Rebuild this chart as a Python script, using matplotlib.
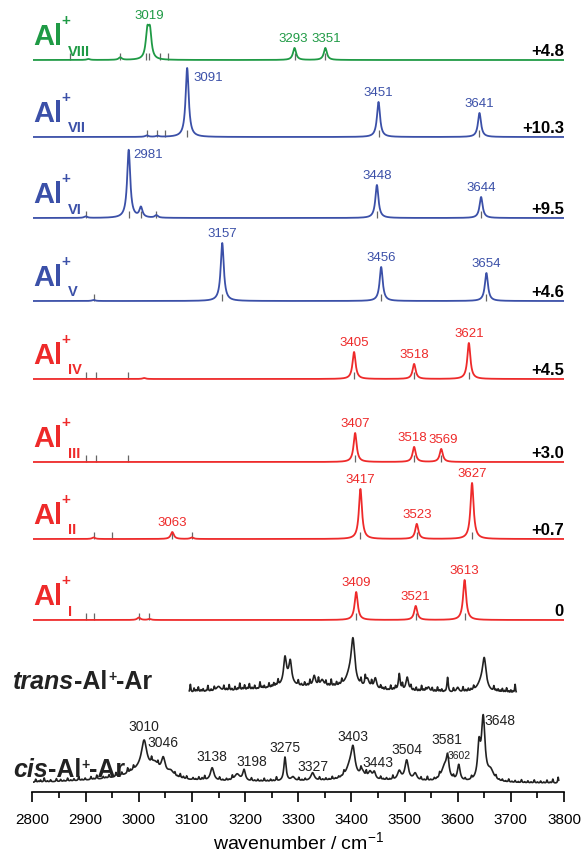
import numpy as np
import matplotlib.pyplot as plt
from matplotlib.ticker import MultipleLocator

plt.rcParams['font.family'] = ['Liberation Sans', 'DejaVu Sans']
plt.rcParams['mathtext.fontset'] = 'custom'
plt.rcParams['mathtext.rm'] = 'Liberation Sans'

# computed isomers, top to bottom
isomers = ['VIII', 'VII', 'VI', 'V', 'IV', 'III', 'II', 'I']
energies = ['+4.8', '+10.3', '+9.5', '+4.6', '+4.5', '+3.0', '+0.7', '0']
# (position cm-1, height)
peaks = {
    'VIII': [(3016, 26), (3021, 26), (3293, 12), (3351, 12), (2965, 2.5), (2905, 1)],
    'VII': [(3091, 69), (3451, 35), (3641, 24), (3015, 1.5), (3035, 1)],
    'VI': [(2981, 68), (3004, 10), (3033, 2.5), (3448, 33), (3644, 21), (2900, 1.5)],
    'V': [(3157, 58), (3456, 34), (3654, 28), (2915, 1)],
    'IV': [(3405, 27), (3518, 15), (3621, 36), (3010, 1)],
    'III': [(3407, 29), (3518, 15), (3569, 13)],
    'II': [(3417, 50), (3523, 15), (3627, 56), (3063, 7), (2915, 1.5), (3100, 1.5)],
    'I': [(3409, 28), (3521, 14), (3613, 40), (3000, 2.5), (3020, 1)],
}
labels = {
    'VIII': [3019, 3293, 3351],
    'VII': [3091, 3451, 3641],
    'VI': [2981, 3448, 3644],
    'V': [3157, 3456, 3654],
    'IV': [3405, 3518, 3621],
    'III': [3407, 3518, 3569],
    'II': [3063, 3417, 3523, 3627],
    'I': [3409, 3521, 3613],
}
sticks = {
    'VIII': [3014, 3019, 3293, 3351, 2965, 2870, 3040, 3055],
    'VII': [3091, 3451, 3641, 3015, 3035, 3050],
    'VI': [2981, 3004, 3033, 3448, 3644, 2900],
    'V': [3157, 3456, 3654, 2915],
    'IV': [3405, 3518, 3621, 2900, 2920, 2980],
    'III': [3407, 3518, 3569, 2900, 2920, 2980],
    'II': [3063, 3417, 3523, 3627, 2915, 2950, 3100],
    'I': [3409, 3521, 3613, 2900, 2915, 3000, 3020],
}

# experimental spectra: (position, height, fwhm)
cis_peaks = [(3005, 9, 50), (3010, 28, 12), (3030, 10, 18), (3046, 16, 9), (3060, 6, 14),
             (3138, 13, 8), (3185, 7, 12), (3198, 11, 6), (3275, 24, 5), (3290, 4, 8),
             (3327, 8, 8), (3397, 12, 18), (3403, 26, 9), (3420, 7, 10), (3435, 7, 8),
             (3443, 7, 6), (3490, 9, 8), (3504, 20, 8), (3520, 7, 8), (3575, 14, 14),
             (3581, 20, 6), (3602, 16, 6), (3640, 32, 6), (3648, 62, 8), (3662, 10, 14),
             (2990, 5, 220), (3420, 3, 320)]
cis_noise = [(2806, 3), (2811, 1), (2815, 2), (2822, 4), (2828, 1), (2834, 2), (2845, 3),
             (2853, 2), (2859, 1), (2866, 3), (2872, 1), (2878, 2), (2887, 4), (2893, 1),
             (2899, 2), (2910, 3), (2915, 1), (2921, 4), (2933, 2), (2938, 1), (2944, 3),
             (2957, 4), (2962, 2), (2968, 3), (2979, 5), (2984, 2), (2990, 4), (3024, 5),
             (3036, 4), (3068, 3), (3073, 1), (3078, 4), (3084, 2), (3090, 3), (3102, 2),
             (3107, 1), (3113, 3), (3119, 2), (3124, 4), (3152, 3), (3158, 1), (3165, 2),
             (3170, 1), (3176, 4), (3212, 3), (3218, 1), (3224, 2), (3230, 1), (3236, 3),
             (3242, 1), (3248, 2), (3253, 1), (3259, 4), (3301, 3), (3307, 1), (3313, 2),
             (3340, 3), (3346, 1), (3352, 2), (3358, 1), (3364, 3), (3370, 1), (3376, 2),
             (3381, 1), (3386, 4), (3418, 4), (3428, 5), (3455, 3), (3460, 1), (3466, 2),
             (3472, 1), (3478, 4), (3531, 3), (3537, 1), (3543, 4), (3549, 1), (3556, 2),
             (3561, 1), (3566, 4), (3592, 3), (3614, 2), (3626, 3), (3672, 3), (3678, 1),
             (3684, 2), (3690, 1), (3696, 3), (3702, 1), (3708, 2), (3714, 1), (3720, 3),
             (3726, 1), (3732, 2), (3738, 1), (3744, 3), (3750, 1), (3756, 2), (3762, 1),
             (3768, 3), (3774, 1), (3779, 4), (3789, 6)]
cis_labels = [3010, 3046, 3138, 3198, 3275, 3327, 3403, 3443, 3504, 3581, 3602, 3648]

trans_peaks = [(3320, 7, 320), (3150, 5, 10), (3275, 24, 6), (3285, 20, 6), (3280, 8, 22),
               (3330, 11, 6), (3345, 7, 8), (3398, 14, 20), (3403, 40, 8), (3430, 9, 8),
               (3445, 11, 6), (3490, 17, 4), (3505, 14, 6), (3545, 5, 6), (3581, 15, 3),
               (3600, 5, 6), (3645, 10, 20), (3650, 28, 8)]
trans_noise = [(3097, 8), (3104, 4), (3108, 2), (3112, 5), (3117, 2), (3121, 3), (3126, 1),
               (3130, 6), (3136, 2), (3142, 4), (3160, 5), (3165, 2), (3170, 6), (3175, 2),
               (3181, 4), (3186, 2), (3190, 7), (3195, 2), (3199, 5), (3204, 2), (3208, 6),
               (3213, 2), (3218, 4), (3223, 1), (3228, 7), (3232, 2), (3236, 3), (3241, 1),
               (3245, 5), (3250, 2), (3254, 4), (3258, 2), (3262, 6), (3300, 5), (3306, 2),
               (3312, 4), (3317, 2), (3322, 6), (3338, 7), (3352, 5), (3357, 2), (3362, 7),
               (3367, 2), (3372, 4), (3377, 2), (3382, 5), (3418, 6), (3426, 8), (3438, 6),
               (3455, 4), (3459, 2), (3464, 3), (3469, 1), (3474, 5), (3479, 2), (3483, 4),
               (3496, 6), (3512, 5), (3517, 2), (3522, 4), (3527, 2), (3532, 6), (3536, 2),
               (3540, 3), (3552, 4), (3557, 2), (3562, 5), (3566, 2), (3570, 3), (3575, 1),
               (3592, 4), (3610, 5), (3615, 2), (3620, 3), (3625, 2), (3630, 4), (3668, 5),
               (3672, 2), (3676, 3), (3680, 2), (3684, 4), (3688, 2), (3692, 5), (3696, 2),
               (3700, 3), (3704, 2), (3708, 9)]

green, blue, red = '#1f9a45', '#3b50a8', '#ee2a2a'
colors = [green, blue, blue, blue, red, red, red, red]
# baseline of each trace, in pixels above the axis line
offsets = [732, 655, 574, 491, 413, 330, 253, 172]
trans_off, cis_off = 97, 6


def lorentz(x, plist, width=7.0):
    y = np.zeros_like(x)
    for p in plist:
        c, h = p[0], p[1]
        w = p[2] if len(p) > 2 else width
        y += h * (w / 2) ** 2 / ((x - c) ** 2 + (w / 2) ** 2)
    return y


fig = plt.figure(figsize=(5.81, 8.55), dpi=100)
ax = fig.add_axes([32.5 / 581, 63 / 855, 531.5 / 581, 792 / 855])
ax.set_xlim(2800, 3800)
ax.set_ylim(0, 792)

x = np.linspace(2800, 3800, 4001)
special = {('VII', 3091): ('left', 11, -10), ('VI', 2981): ('left', 8, -5),
           ('III', 3518): ('center', -3, 9), ('III', 3569): ('center', 3, 9),
           ('VIII', 3293): ('center', -2, 9), ('VIII', 3351): ('center', 2, 9)}

for name, e, col, base in zip(isomers, energies, colors, offsets):
    y = base + lorentz(x, peaks[name])
    ax.vlines(sticks[name], base, base + 7, color='0.4', lw=0.9, zorder=1)
    ax.plot(x, y, color=col, lw=1.3, zorder=2)
    for v in labels[name]:
        top = y[(x > v - 4) & (x < v + 4)].max()
        ha, dx, dy = special.get((name, v), ('center', 0, 9))
        ax.text(v + dx, top + dy, str(v), ha=ha, va='center', fontsize=9.5, color=col)
    ax.text(3800, base + 4, e, ha='right', va='baseline', fontsize=12,
            fontweight='bold')
    ax.text(2801, base + 15, 'Al', ha='left', va='baseline', fontsize=21,
            fontweight='bold', color=col, clip_on=False)
    ax.text(2863, base + 39, '+', ha='center', va='center', fontsize=11,
            fontweight='bold', color=col)
    ax.text(2867, base + 4.5, name, ha='left', va='baseline', fontsize=10.5,
            fontweight='bold', color=col)

# experimental spectra
xc = np.linspace(2800, 3790, 3961)
yc = cis_off + 2 + lorentz(xc, cis_peaks) + lorentz(xc, cis_noise, width=2.0)
ax.plot(xc, yc, color='#222222', lw=1.2)
xt = np.linspace(3095, 3710, 2461)
yt = trans_off + lorentz(xt, trans_peaks) + lorentz(xt, trans_noise, width=2.0)
ax.plot(xt, yt, color='#222222', lw=1.2)

cis_lab_x = [3010, 3017, 3138, 3213, 3275, 3327, 3403, 3450, 3504, 3580, 3602, 3651]
cis_lab_y = [59, 43, 29, 24, 38, 19, 49, 23, 36, 46, 30, 65]
for v, lx, ly in zip(cis_labels, cis_lab_x, cis_lab_y):
    ha = 'left' if v in (3046, 3648) else 'center'
    fs = 7.5 if v == 3602 else 10
    ax.text(lx, cis_off + ly, str(v), ha=ha, va='center', fontsize=fs, color='#222222')


def molecule_label(prefix, xpos, ypos):
    t = ax.text(xpos, ypos, prefix, ha='left', va='bottom', fontsize=18,
                fontweight='bold', fontstyle='italic', clip_on=False, color='#222222')
    t2 = ax.annotate('-Al', xy=(1, 0), xycoords=t, ha='left', va='bottom',
                     fontsize=18, fontweight='bold', color='#222222')
    ax.annotate('+', xy=(1, 1), xycoords=t2, xytext=(0.5, 0),
                textcoords='offset points', ha='left', va='top',
                fontsize=10, fontweight='bold', color='#222222')
    ax.annotate('-Ar', xy=(1, 0), xycoords=t2, xytext=(6, 0),
                textcoords='offset points', ha='left', va='bottom',
                fontsize=18, fontweight='bold', color='#222222')


molecule_label('trans', 2763, 98)
molecule_label('cis', 2763, 10)

for s in ['left', 'right', 'top']:
    ax.spines[s].set_visible(False)
ax.spines['bottom'].set_linewidth(1.2)
ax.set_yticks([])
ax.xaxis.set_major_locator(MultipleLocator(100))
ax.xaxis.set_minor_locator(MultipleLocator(50))
ax.tick_params(axis='x', which='major', direction='out', length=7, width=1.2,
               labelsize=11, pad=8)
ax.tick_params(axis='x', which='minor', direction='out', length=4, width=1.2)
ax.set_xlabel('wavenumber / cm$^{-1}$', fontsize=14, labelpad=3)

fig.savefig('out.png', dpi=100)
